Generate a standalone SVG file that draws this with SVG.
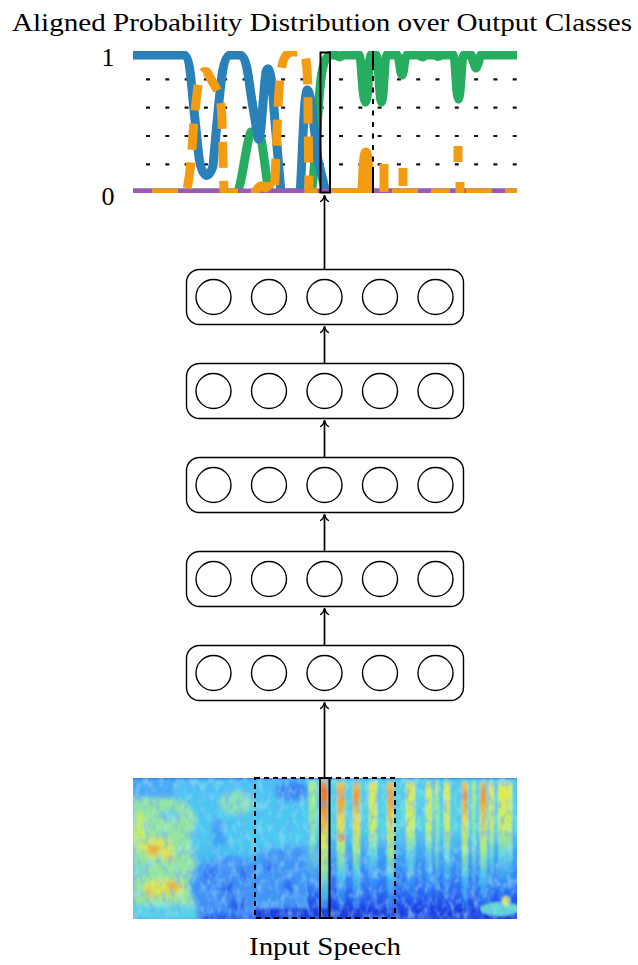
<svg xmlns="http://www.w3.org/2000/svg" width="638" height="965" viewBox="0 0 638 965">
  <style>
    .lbl { font-family: "Liberation Serif", serif; font-size: 26px; fill: #000; }
    .layer rect { fill: #fff; stroke: #000; stroke-width: 1.4; }
    .layer circle { fill: #fff; stroke: #000; stroke-width: 1.4; }
    .arrow { stroke: #000; stroke-width: 1.7; fill: none; marker-end: url(#tip); }
    .grid { stroke: #111; stroke-width: 2.2; stroke-dasharray: 4 15.3; }
    .curve { fill: none; stroke-width: 9; stroke-linejoin: round; stroke-linecap: butt; }
  </style>
  <defs>
    <marker id="tip" viewBox="-7 -5 9 10" refX="0" refY="0" markerWidth="9" markerHeight="10" orient="auto" markerUnits="userSpaceOnUse">
      <path d="M -5.5 -4 C -4 -1.6, -1.2 -0.4, 0.9 0 C -1.2 0.4, -4 1.6, -5.5 4" fill="none" stroke="#000" stroke-width="1.4" stroke-linecap="round"/>
    </marker>
    <clipPath id="plotClip"><rect x="133" y="51" width="384" height="142"/></clipPath>
    <clipPath id="specClip"><rect x="133" y="778" width="384" height="141"/></clipPath>
    <filter id="soft" x="-5%" y="-5%" width="110%" height="110%"><feGaussianBlur stdDeviation="2.6"/></filter>
    <filter id="softer" x="-5%" y="-5%" width="110%" height="110%"><feGaussianBlur stdDeviation="1.2"/></filter>
    <filter id="mottle" x="0" y="0" width="100%" height="100%">
      <feTurbulence type="fractalNoise" baseFrequency="0.16 0.1" numOctaves="2" seed="7"/>
      <feColorMatrix type="matrix" values="0 0 0 0 0.15  0 0 0 0 0.4  0 0 0 0 0.98  3.2 0 0 0 -1.45"/>
    </filter>
    <filter id="mottle2" x="0" y="0" width="100%" height="100%">
      <feTurbulence type="fractalNoise" baseFrequency="0.14 0.09" numOctaves="2" seed="21"/>
      <feColorMatrix type="matrix" values="0 0 0 0 0.45  0 0 0 0 0.88  0 0 0 0 0.85  3.2 0 0 0 -1.5"/>
    </filter>
    <linearGradient id="bgL" x1="0" y1="0" x2="0" y2="1">
      <stop offset="0" stop-color="#2f78ee"/>
      <stop offset="0.03" stop-color="#4cc2f4"/>
      <stop offset="0.45" stop-color="#4ccbf0"/>
      <stop offset="0.65" stop-color="#3ea8f4"/>
      <stop offset="0.85" stop-color="#3484f4"/>
      <stop offset="1" stop-color="#2450e8"/>
    </linearGradient>
    <linearGradient id="bgR" x1="0" y1="0" x2="0" y2="1">
      <stop offset="0" stop-color="#3080f0"/>
      <stop offset="0.04" stop-color="#56d2e6"/>
      <stop offset="0.35" stop-color="#54d6e2"/>
      <stop offset="0.5" stop-color="#40acf2"/>
      <stop offset="0.75" stop-color="#2c72f6"/>
      <stop offset="0.92" stop-color="#1a3ee4"/>
      <stop offset="1" stop-color="#1c44e6"/>
    </linearGradient>
    <linearGradient id="stO" x1="0" y1="0" x2="0" y2="1">
      <stop offset="0" stop-color="#70d8e8"/>
      <stop offset="0.04" stop-color="#f0c440"/>
      <stop offset="0.12" stop-color="#f09a2c"/>
      <stop offset="0.32" stop-color="#e8dc48"/>
      <stop offset="0.55" stop-color="#a6ee7c"/>
      <stop offset="0.75" stop-color="#48c6f0"/>
      <stop offset="1" stop-color="#2060f0"/>
    </linearGradient>
    <linearGradient id="stR" x1="0" y1="0" x2="0" y2="1">
      <stop offset="0" stop-color="#e8d040"/>
      <stop offset="0.08" stop-color="#f07020"/>
      <stop offset="0.28" stop-color="#f0a02c"/>
      <stop offset="0.45" stop-color="#e4e448"/>
      <stop offset="0.7" stop-color="#98ea90"/>
      <stop offset="0.9" stop-color="#40b4f2"/>
      <stop offset="1" stop-color="#2a6af0"/>
    </linearGradient>
    <linearGradient id="stY" x1="0" y1="0" x2="0" y2="1">
      <stop offset="0" stop-color="#80dce0"/>
      <stop offset="0.05" stop-color="#e2ea4c"/>
      <stop offset="0.38" stop-color="#c6ee66"/>
      <stop offset="0.58" stop-color="#62d6e0"/>
      <stop offset="0.8" stop-color="#3290f8"/>
      <stop offset="1" stop-color="#1c48e8"/>
    </linearGradient>
    <linearGradient id="stG" x1="0" y1="0" x2="0" y2="1">
      <stop offset="0" stop-color="#80dce0"/>
      <stop offset="0.05" stop-color="#b4ee74"/>
      <stop offset="0.5" stop-color="#78e2bc"/>
      <stop offset="0.8" stop-color="#3a94f6"/>
      <stop offset="1" stop-color="#1c48e8"/>
    </linearGradient>
  </defs>

  <rect width="638" height="965" fill="#fff"/>

  <!-- title and axis labels -->
  <text class="lbl" x="322" y="31" text-anchor="middle" textLength="620" lengthAdjust="spacingAndGlyphs">Aligned Probability Distribution over Output Classes</text>
  <text class="lbl" x="108" y="66" text-anchor="middle">1</text>
  <text class="lbl" x="108" y="205" text-anchor="middle">0</text>

  <!-- probability plot -->
  <g id="plot">
    <g class="grid">
      <line x1="146" y1="79.3" x2="517" y2="79.3"/>
      <line x1="146" y1="107.7" x2="517" y2="107.7"/>
      <line x1="146" y1="136" x2="517" y2="136"/>
      <line x1="146" y1="164.3" x2="517" y2="164.3"/>
    </g>
    <g clip-path="url(#plotClip)">
      <!-- class 3 (green) -->
      <path class="curve" stroke="#27ad5f" d="M 133 193 L 236 193 C 242 190, 246 140, 251 132 L 258 131 C 262 133, 265 170, 269 193 L 311 193 C 314 188, 317 120, 320 88 C 322 66, 325 56, 331 55 L 336 55 C 338 57, 340 58, 342 55 L 359 55 C 362 58, 362 100, 365.5 102 C 369 100, 368 58, 371 55 L 376 55 C 379 58, 379 100, 381.5 102 C 384 100, 384 58, 387 55 L 397 55 C 400 58, 400 74, 402 75 C 404 74, 404 58, 407 55 L 420 55 C 421 57, 423 58, 425 55 L 436 55 C 437 57, 439 57, 441 55 L 453 55 C 456 58, 456 98, 458.5 99 C 461 98, 461 58, 464 55 L 471 55 C 473 58, 474 67, 476 68 C 478 67, 479 58, 481 55 L 517 55"/>
      <!-- class 1 (blue) -->
      <path class="curve" stroke="#2a80b9" d="M 133 55 L 184 55 C 190 56, 191 80, 194 110 L 199 158 C 202 176, 208 182, 213 166 L 218 112 C 221 80, 223 56, 230 55 L 240 55 C 246 56, 248 72, 251 95 L 258 138 C 261 148, 263 92, 266 72 C 269 62, 272 76, 274 110 L 281 193 L 299 193 C 302 190, 303 96, 307 90 C 311 88, 314 130, 318 160 L 326 193 L 361 193 C 364 183, 367 183, 370 193 L 517 193"/>
      <!-- class 4 (purple) -->
      <path class="curve" stroke="#9b59b6" d="M 133 193 L 517 193"/>
      <!-- class 2 (orange, dashed) -->
      <path class="curve" stroke="#f39c12" stroke-width="8" stroke-dasharray="26 13" d="M 152 193 L 186 193 C 190 180, 192 150, 194 120 L 198 85 C 200 74, 203 70, 207 72 L 216 88 C 220 95, 221 100, 222 120 L 224 193 L 255 193 C 258 186, 262 184, 265 188 C 268 184, 271 188, 274 193 C 276 170, 277 120, 279 90 C 281 60, 285 52, 292 52 L 303 52 C 307 53, 308 80, 308 110 L 309 193 L 362 193"/>
      <path class="curve" stroke="#f39c12" stroke-width="8" d="M 362 193 C 363 160, 364 152, 366 152 C 369 152, 369 185, 370 193 M 458 162 L 458 146 M 460 193 L 460 182"/>
      <path class="curve" stroke="#f39c12" stroke-width="12" d="M 384 192 L 384 164 M 403 186 L 403 168"/>
      <path class="curve" stroke="#f39c12" stroke-width="8" stroke-dasharray="26 13" d="M 334 193 L 358 193 M 392 193 L 450 193 M 466 193 L 517 193"/>
    </g>
    <!-- current frame and boundary markers -->
    <path d="M 373 51 L 373 70 M 373 167 L 373 193" stroke="#000" stroke-width="2"/>
    <path d="M 373 76 L 373 164" stroke="#000" stroke-width="2" stroke-dasharray="5 6.5"/>
    <rect x="320.5" y="52.5" width="9.5" height="140" fill="none" stroke="#000" stroke-width="2"/>
  </g>

  <!-- network layers -->
  <g id="layer1" class="layer">
    <rect x="186.5" y="269.5" width="277" height="55" rx="13"/>
    <circle cx="213.5" cy="297" r="17.5"/><circle cx="269" cy="297" r="17.5"/><circle cx="324.5" cy="297" r="17.5"/><circle cx="380" cy="297" r="17.5"/><circle cx="435.5" cy="297" r="17.5"/>
  </g>
  <g id="layer2" class="layer">
    <rect x="186.5" y="363.5" width="277" height="55" rx="13"/>
    <circle cx="213.5" cy="391" r="17.5"/><circle cx="269" cy="391" r="17.5"/><circle cx="324.5" cy="391" r="17.5"/><circle cx="380" cy="391" r="17.5"/><circle cx="435.5" cy="391" r="17.5"/>
  </g>
  <g id="layer3" class="layer">
    <rect x="186.5" y="457.5" width="277" height="55" rx="13"/>
    <circle cx="213.5" cy="485" r="17.5"/><circle cx="269" cy="485" r="17.5"/><circle cx="324.5" cy="485" r="17.5"/><circle cx="380" cy="485" r="17.5"/><circle cx="435.5" cy="485" r="17.5"/>
  </g>
  <g id="layer4" class="layer">
    <rect x="186.5" y="551.5" width="277" height="55" rx="13"/>
    <circle cx="213.5" cy="579" r="17.5"/><circle cx="269" cy="579" r="17.5"/><circle cx="324.5" cy="579" r="17.5"/><circle cx="380" cy="579" r="17.5"/><circle cx="435.5" cy="579" r="17.5"/>
  </g>
  <g id="layer5" class="layer">
    <rect x="186.5" y="645.5" width="277" height="55" rx="13"/>
    <circle cx="213.5" cy="673" r="17.5"/><circle cx="269" cy="673" r="17.5"/><circle cx="324.5" cy="673" r="17.5"/><circle cx="380" cy="673" r="17.5"/><circle cx="435.5" cy="673" r="17.5"/>
  </g>

  <!-- spectrogram -->
  <g id="spectrogram">
    <g clip-path="url(#specClip)">
      <g filter="url(#soft)">
        <rect x="128" y="774" width="186" height="150" fill="url(#bgL)"/>
        <!-- low-frequency energy on the left -->
        <path d="M 133 798 L 160 795 L 186 802 L 197 818 L 190 840 L 196 866 L 188 884 L 196 906 L 133 906 Z" fill="#96e4a0"/>
        <rect x="128" y="776" width="48" height="22" fill="#44aaf6"/>
        <ellipse cx="170" cy="815" rx="8" ry="6" fill="#62d0dc"/>
        <ellipse cx="139" cy="832" rx="7" ry="20" fill="#c4ec68"/>
        <ellipse cx="158" cy="848" rx="15" ry="11" fill="#dce654"/>
        <ellipse cx="154" cy="850" rx="6" ry="5" fill="#eea838"/>
        <ellipse cx="171" cy="858" rx="3" ry="3" fill="#eeb038"/>
        <ellipse cx="140" cy="870" rx="6" ry="5" fill="#70d8d0"/>
        <ellipse cx="164" cy="888" rx="21" ry="9" fill="#dce654"/>
        <ellipse cx="173" cy="886" rx="6" ry="4" fill="#eea036"/>
        <ellipse cx="150" cy="893" rx="4" ry="4" fill="#eeb038"/>
        <rect x="128" y="905" width="70" height="16" fill="#58d2e6"/>
        <!-- middle band -->
        <ellipse cx="236" cy="803" rx="17" ry="12" fill="#88e0b8"/>
        <rect x="212" y="820" width="14" height="26" fill="#40a0f6"/>
        <path d="M 196 866 L 230 856 L 256 862 L 256 913 L 196 913 Z" fill="#4090f6"/>
        <rect x="204" y="868" width="10" height="12" fill="#2c68f2"/>
        <rect x="222" y="882" width="12" height="15" fill="#2c68f2"/>
        <rect x="240" y="870" width="8" height="10" fill="#2c68f2"/>
        <rect x="230" y="900" width="16" height="10" fill="#2456ec"/>
        <ellipse cx="292" cy="791" rx="17" ry="10" fill="#3a86f2"/>
        <path d="M 258 850 L 306 846 L 308 906 L 258 906 Z" fill="#4094f6"/>
        <rect x="266" y="862" width="8" height="10" fill="#2c6cf0"/>
        <rect x="284" y="880" width="10" height="12" fill="#2c6cf0"/>
      </g>
      <g filter="url(#softer)">
        <rect x="308" y="774" width="214" height="150" fill="url(#bgR)"/>
        <rect x="255" y="909" width="262" height="12" fill="#1e40de"/>
        <!-- voiced frames -->
        <rect x="309" y="780" width="7" height="124" fill="url(#stG)"/>
        <rect x="320" y="780" width="8" height="128" fill="url(#stR)"/>
        <rect x="337" y="780" width="8" height="128" fill="url(#stO)"/>
        <ellipse cx="341" cy="838" rx="4" ry="4" fill="#f0a030"/>
        <rect x="353" y="780" width="7" height="128" fill="url(#stO)"/>
        <rect x="369" y="780" width="8" height="128" fill="url(#stY)"/>
        <rect x="387" y="780" width="7" height="128" fill="url(#stO)"/>
        <rect x="406" y="780" width="9" height="128" fill="url(#stY)"/>
        <rect x="426" y="780" width="6" height="128" fill="url(#stY)"/>
        <rect x="435" y="780" width="4" height="128" fill="url(#stG)"/>
        <rect x="444" y="780" width="6" height="128" fill="url(#stY)"/>
        <rect x="462" y="780" width="6" height="128" fill="url(#stO)"/>
        <rect x="472" y="780" width="4" height="128" fill="url(#stG)"/>
        <rect x="480" y="780" width="7" height="128" fill="url(#stO)"/>
        <rect x="489" y="780" width="5" height="128" fill="url(#stY)"/>
        <rect x="498" y="780" width="14" height="128" fill="url(#stY)"/>
        <ellipse cx="500" cy="909" rx="19" ry="7" fill="#62d6d0"/>
        <ellipse cx="506" cy="901" rx="4" ry="5" fill="#dde444"/>
        <rect x="128" y="774" width="394" height="5" fill="#2e6cee"/>
      </g>
      <rect x="133" y="778" width="384" height="141" filter="url(#mottle)" opacity="0.5"/>
      <rect x="133" y="778" width="384" height="141" filter="url(#mottle2)" opacity="0.35"/>
    </g>
    <rect x="255" y="778" width="140" height="140" fill="none" stroke="#000" stroke-width="2" stroke-dasharray="5 4"/>
    <rect x="320" y="778" width="9.5" height="140" fill="none" stroke="#000" stroke-width="2"/>
  </g>
  <text class="lbl" x="325" y="955" text-anchor="middle" textLength="152" lengthAdjust="spacingAndGlyphs">Input Speech</text>

  <!-- connectors -->
  <g id="connectors">
    <path class="arrow" d="M 324.5 778 L 324.5 703"/>
    <path class="arrow" d="M 324.5 645 L 324.5 609"/>
    <path class="arrow" d="M 324.5 551 L 324.5 515"/>
    <path class="arrow" d="M 324.5 457 L 324.5 421"/>
    <path class="arrow" d="M 324.5 363 L 324.5 327"/>
    <path class="arrow" d="M 324.5 269 L 324.5 196"/>
  </g>
</svg>
